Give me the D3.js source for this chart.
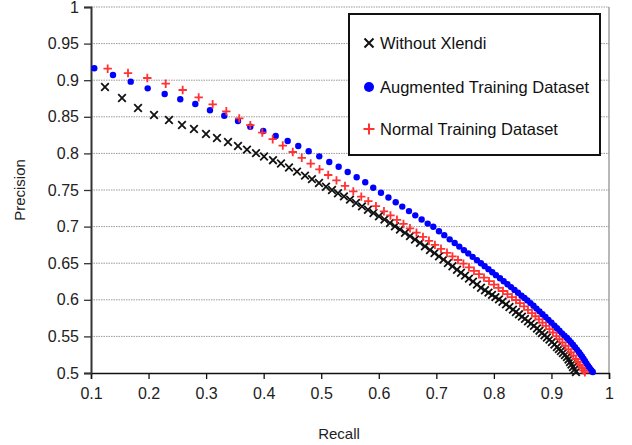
<!DOCTYPE html>
<html>
<head>
<meta charset="utf-8">
<script src="https://cdn.jsdelivr.net/npm/d3@7"></script>
<style>
  body { margin: 0; background: #fff; }
  svg { display: block; }
  .tick text { font-family: 'Liberation Sans', Arial, sans-serif; font-size: 16px; fill: #222; }
  .title { font-family: 'Liberation Sans', Arial, sans-serif; font-size: 15px; fill: #222; }
  .legend text { font-family: 'Liberation Sans', Arial, sans-serif; font-size: 16.5px; fill: #111; }
</style>
</head>
<body>
<script>
'use strict';

// Without Xlendi
const recallWithout = [0.1243, 0.1539, 0.1817, 0.2095, 0.2355, 0.2581, 0.2789, 0.2998, 0.3189, 0.3380,
  0.3554, 0.3710, 0.3867, 0.4006, 0.4162, 0.4301, 0.4440, 0.4579, 0.4718, 0.4839,
  0.4961, 0.5083, 0.5187, 0.5291, 0.5395, 0.5500, 0.5604, 0.5708, 0.5812, 0.5908,
  0.6003, 0.6099, 0.6194, 0.6281, 0.6368, 0.6455, 0.6542, 0.6629, 0.6716, 0.6802,
  0.6890, 0.6968, 0.7046, 0.7124, 0.7202, 0.7280, 0.7359, 0.7428, 0.7498, 0.7567,
  0.7637, 0.7706, 0.7776, 0.7845, 0.7906, 0.7967, 0.8027, 0.8088, 0.8149, 0.8210,
  0.8271, 0.8331, 0.8383, 0.8435, 0.8487, 0.8540, 0.8592, 0.8644, 0.8696, 0.8748,
  0.8792, 0.8835, 0.8879, 0.8922, 0.8966, 0.9009, 0.9052, 0.9096, 0.9130, 0.9165,
  0.9200, 0.9235, 0.9270, 0.9296, 0.9322, 0.9348, 0.9374, 0.9400, 0.9426];
const precisionWithout = [0.8907, 0.8757, 0.8620, 0.8525, 0.8456, 0.8388, 0.8333, 0.8265, 0.8210, 0.8156,
  0.8101, 0.8052, 0.8003, 0.7958, 0.7907, 0.7862, 0.7807, 0.7751, 0.7697, 0.7648,
  0.7596, 0.7544, 0.7500, 0.7456, 0.7413, 0.7368, 0.7322, 0.7277, 0.7230, 0.7186,
  0.7141, 0.7097, 0.7049, 0.7005, 0.6960, 0.6915, 0.6870, 0.6824, 0.6777, 0.6731,
  0.6680, 0.6638, 0.6593, 0.6548, 0.6503, 0.6458, 0.6411, 0.6370, 0.6331, 0.6290,
  0.6249, 0.6208, 0.6165, 0.6130, 0.6098, 0.6067, 0.6036, 0.6005, 0.5973, 0.5937,
  0.5902, 0.5865, 0.5833, 0.5802, 0.5770, 0.5739, 0.5706, 0.5675, 0.5643, 0.5608,
  0.5578, 0.5546, 0.5516, 0.5485, 0.5456, 0.5423, 0.5389, 0.5355, 0.5328, 0.5301,
  0.5273, 0.5246, 0.5219, 0.5184, 0.5150, 0.5116, 0.5082, 0.5048, 0.5014];

// Augmented Training Dataset
const recallAugmented = [0.1057, 0.1382, 0.1690, 0.1985, 0.2280, 0.2551, 0.2812, 0.3067, 0.3316, 0.3554,
  0.3768, 0.3993, 0.4209, 0.4417, 0.4601, 0.4782, 0.4966, 0.5140, 0.5303, 0.5460,
  0.5616, 0.5765, 0.5904, 0.6038, 0.6168, 0.6294, 0.6408, 0.6525, 0.6634, 0.6745,
  0.6850, 0.6947, 0.7046, 0.7138, 0.7232, 0.7319, 0.7399, 0.7480, 0.7555, 0.7631,
  0.7706, 0.7775, 0.7840, 0.7906, 0.7972, 0.8036, 0.8106, 0.8170, 0.8236, 0.8297,
  0.8358, 0.8418, 0.8479, 0.8531, 0.8583, 0.8635, 0.8688, 0.8740, 0.8792, 0.8844,
  0.8896, 0.8948, 0.9000, 0.9052, 0.9096, 0.9139, 0.9183, 0.9226, 0.9270, 0.9304,
  0.9339, 0.9374, 0.9409, 0.9443, 0.9478, 0.9504, 0.9530, 0.9556, 0.9582, 0.9608,
  0.9634, 0.9655, 0.9676, 0.9697, 0.9718];
const precisionAugmented = [0.9163, 0.9071, 0.8980, 0.8889, 0.8811, 0.8739, 0.8675, 0.8589, 0.8515, 0.8443,
  0.8365, 0.8306, 0.8238, 0.8169, 0.8101, 0.8029, 0.7960, 0.7883, 0.7818, 0.7746,
  0.7674, 0.7605, 0.7531, 0.7463, 0.7398, 0.7333, 0.7273, 0.7212, 0.7154, 0.7096,
  0.7041, 0.6997, 0.6937, 0.6883, 0.6826, 0.6775, 0.6727, 0.6678, 0.6634, 0.6587,
  0.6542, 0.6500, 0.6460, 0.6419, 0.6377, 0.6337, 0.6294, 0.6253, 0.6212, 0.6173,
  0.6135, 0.6096, 0.6057, 0.6025, 0.5992, 0.5955, 0.5918, 0.5880, 0.5842, 0.5803,
  0.5765, 0.5725, 0.5686, 0.5645, 0.5611, 0.5577, 0.5542, 0.5508, 0.5478, 0.5448,
  0.5417, 0.5385, 0.5352, 0.5320, 0.5284, 0.5255, 0.5225, 0.5195, 0.5164, 0.5131,
  0.5100, 0.5075, 0.5052, 0.5031, 0.5014];

// Normal Training Dataset
const recallNormal = [0.1290, 0.1643, 0.1978, 0.2298, 0.2593, 0.2871, 0.3114, 0.3351, 0.3576, 0.3768,
  0.3976, 0.4157, 0.4332, 0.4506, 0.4662, 0.4817, 0.4970, 0.5121, 0.5265, 0.5413,
  0.5557, 0.5696, 0.5818, 0.5951, 0.6090, 0.6203, 0.6316, 0.6429, 0.6542, 0.6655,
  0.6768, 0.6872, 0.6976, 0.7081, 0.7185, 0.7280, 0.7376, 0.7471, 0.7567, 0.7654,
  0.7741, 0.7828, 0.7915, 0.8001, 0.8080, 0.8158, 0.8236, 0.8314, 0.8384, 0.8453,
  0.8523, 0.8592, 0.8662, 0.8722, 0.8783, 0.8844, 0.8905, 0.8966, 0.9026, 0.9087,
  0.9139, 0.9191, 0.9244, 0.9296, 0.9339, 0.9382, 0.9426, 0.9461, 0.9495, 0.9530,
  0.9556, 0.9582];
const precisionNormal = [0.9157, 0.9098, 0.9030, 0.8952, 0.8866, 0.8766, 0.8671, 0.8575, 0.8478, 0.8385,
  0.8284, 0.8194, 0.8107, 0.8019, 0.7940, 0.7861, 0.7783, 0.7705, 0.7631, 0.7555,
  0.7481, 0.7410, 0.7348, 0.7280, 0.7209, 0.7152, 0.7093, 0.7036, 0.6977, 0.6918,
  0.6859, 0.6806, 0.6751, 0.6697, 0.6642, 0.6593, 0.6544, 0.6493, 0.6443, 0.6396,
  0.6350, 0.6303, 0.6255, 0.6208, 0.6164, 0.6120, 0.6078, 0.6036, 0.5997, 0.5954,
  0.5909, 0.5863, 0.5817, 0.5775, 0.5732, 0.5689, 0.5645, 0.5600, 0.5553, 0.5505,
  0.5463, 0.5418, 0.5372, 0.5324, 0.5281, 0.5238, 0.5191, 0.5152, 0.5111, 0.5068,
  0.5036, 0.5010];

const xTicks = [0.1, 0.2, 0.3, 0.4, 0.5, 0.6, 0.7, 0.8, 0.9, 1];
const yTicks = [0.5, 0.55, 0.6, 0.65, 0.7, 0.75, 0.8, 0.85, 0.9, 0.95, 1];
const seriesNames = ['Without Xlendi', 'Augmented Training Dataset', 'Normal Training Dataset'];

const width = 632;
const height = 445;
const margin = { top: 7, right: 23, bottom: 72, left: 91 };

const svg = d3.select('body').append('svg').attr('width', width).attr('height', height);

const x = d3.scaleLinear().domain([0.1, 1]).range([margin.left, width - margin.right]);
const y = d3.scaleLinear().domain([0.5, 1]).range([height - margin.bottom, margin.top]);

//Dotted horizontal grid
svg
  .append('g')
  .selectAll('line')
  .data(yTicks.slice(1))
  .join('line')
  .attr('x1', x(0.1))
  .attr('x2', x(1))
  .attr('y1', d => y(d))
  .attr('y2', d => y(d))
  .attr('stroke', '#9a9a9a')
  .attr('stroke-width', 1)
  .attr('stroke-dasharray', '1.5,1');

//Right frame line
svg
  .append('line')
  .attr('x1', x(1))
  .attr('x2', x(1))
  .attr('y1', y(1))
  .attr('y2', y(0.5))
  .attr('stroke', '#888')
  .attr('stroke-width', 1.2);

// x axis
const xAxis = svg
  .append('g')
  .attr('transform', `translate(0,${y(0.5)})`)
  .call(d3.axisBottom(x).tickValues(xTicks).tickFormat(d3.format('')).tickSize(6).tickPadding(9));
xAxis.select('.domain').attr('stroke', '#111').attr('stroke-width', 1.5);
xAxis.selectAll('.tick line').attr('stroke', '#111').attr('stroke-width', 1.3);

// y axis
const yAxis = svg
  .append('g')
  .attr('transform', `translate(${x(0.1)},0)`)
  .call(d3.axisLeft(y).tickValues(yTicks).tickFormat(d3.format('')).tickSize(7).tickPadding(5));
yAxis.select('.domain').attr('stroke', '#333').attr('stroke-width', 2);
yAxis.selectAll('.tick line').attr('stroke', '#333').attr('stroke-width', 1.3);

svg
  .append('text')
  .attr('class', 'title')
  .attr('x', 339)
  .attr('y', 439)
  .attr('text-anchor', 'middle')
  .text('Recall');

svg
  .append('text')
  .attr('class', 'title')
  .attr('transform', `translate(25,${y(0.75)}) rotate(-90)`)
  .attr('text-anchor', 'middle')
  .text('Precision');

const timesPath = 'M-3.8,-3.8L3.8,3.8M-3.8,3.8L3.8,-3.8';
const plusPath = 'M-4.2,0L4.2,0M0,-4.2L0,4.2';

const zipPoints = (rs, ps) => rs.map((r, i) => ({ r: r, p: ps[i] }));

// Without Xlendi
svg
  .append('g')
  .selectAll('path')
  .data(zipPoints(recallWithout, precisionWithout))
  .join('path')
  .attr('d', timesPath)
  .attr('transform', d => `translate(${x(d.r)},${y(d.p)})`)
  .attr('stroke', '#111')
  .attr('stroke-width', 1.8)
  .attr('fill', 'none');

// Augmented
svg
  .append('g')
  .selectAll('circle')
  .data(zipPoints(recallAugmented, precisionAugmented))
  .join('circle')
  .attr('cx', d => x(d.r))
  .attr('cy', d => y(d.p))
  .attr('r', 3.2)
  .attr('fill', '#0000ff');

// Normal
svg
  .append('g')
  .selectAll('path')
  .data(zipPoints(recallNormal, precisionNormal))
  .join('path')
  .attr('d', plusPath)
  .attr('transform', d => `translate(${x(d.r)},${y(d.p)})`)
  .attr('stroke', '#ff3333')
  .attr('stroke-width', 1.8)
  .attr('fill', 'none');

//Legend
const legend = svg.append('g').attr('class', 'legend').attr('transform', 'translate(349,14)');
legend
  .append('rect')
  .attr('width', 251)
  .attr('height', 141)
  .attr('fill', '#fff')
  .attr('stroke', '#111')
  .attr('stroke-width', 2);

const rowY = [29, 73, 115];
legend
  .append('path')
  .attr('d', 'M-4.5,-4.5L4.5,4.5M-4.5,4.5L4.5,-4.5')
  .attr('transform', `translate(20,${rowY[0]})`)
  .attr('stroke', '#111')
  .attr('stroke-width', 2);
legend
  .append('circle')
  .attr('cx', 20)
  .attr('cy', rowY[1])
  .attr('r', 5)
  .attr('fill', '#0000ff');
legend
  .append('path')
  .attr('d', 'M-5.5,0L5.5,0M0,-5.5L0,5.5')
  .attr('transform', `translate(20,${rowY[2]})`)
  .attr('stroke', '#ff3333')
  .attr('stroke-width', 2);

legend
  .selectAll('text')
  .data(seriesNames)
  .join('text')
  .attr('x', 31)
  .attr('y', (d, i) => rowY[i])
  .attr('dy', '0.36em')
  .text(d => d);
</script>
</body>
</html>
